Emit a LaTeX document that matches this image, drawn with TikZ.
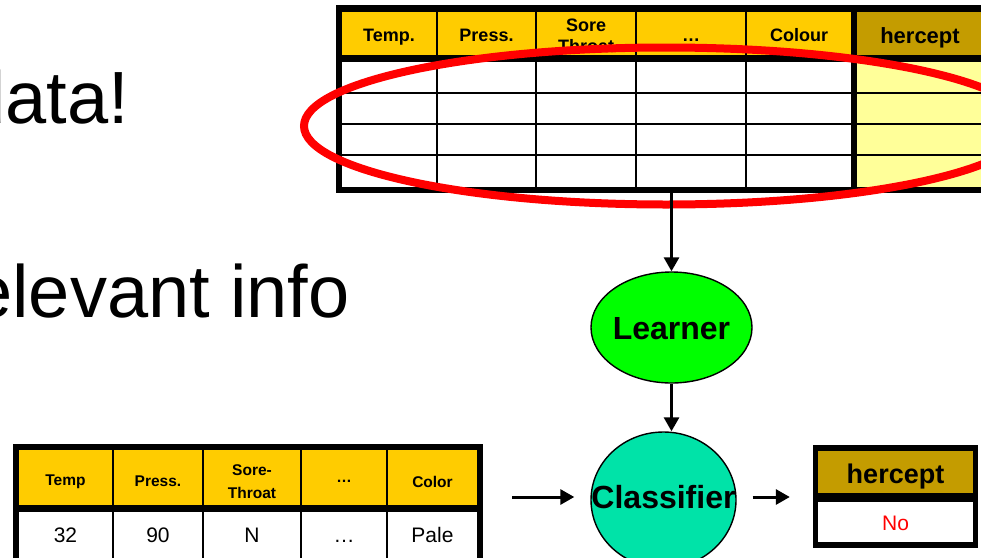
\documentclass[tikz,border=0pt]{standalone}
\usepackage{fontspec}
\setmainfont{Liberation Sans}
\usetikzlibrary{arrows.meta,shapes.geometric}

\definecolor{hdr}{HTML}{FFCC00}
\definecolor{gold}{HTML}{C49C00}
\definecolor{pale}{HTML}{FFFF99}
\definecolor{lime}{HTML}{00FF00}
\definecolor{sea}{HTML}{00E3A8}

\tikzset{
  frame/.style={rectangle, fill=black, inner sep=0pt},
  cell/.style={rectangle, inner sep=0pt, align=center},
  hcell/.style={cell, fill=hdr},
  dcell/.style={cell, fill=white},
  % single-line labels get a fixed box (no depth) so that the capitals
  % sit at the middle of the node whatever the letters are
  bighead/.style={font=\fontsize{18}{21}\selectfont\bfseries, text height=15.9pt, text depth=0pt},
  smallhead/.style={font=\fontsize{15.5}{23}\selectfont\bfseries},
  value/.style={font=\fontsize{21}{24}\selectfont, text height=15pt, text depth=0pt, inner sep=0pt},
  blob/.style={ellipse, draw=black, line width=1.4pt, inner sep=0pt},
  blobtext/.style={inner sep=0pt, text height=22.9pt, text depth=0pt,
                   font=\fontsize{32}{36}\selectfont\bfseries},
  arr/.style={line width=3pt, -{Triangle[length=14pt,width=15pt]}},
  slide/.style={font=\fontsize{74}{80}\selectfont, anchor=base east, inner sep=0pt}
}

\begin{document}
\begin{tikzpicture}[x=1pt,y=-1pt]
\useasboundingbox (0,0) rectangle (981,557);
\clip (0,0) rectangle (981,557);

% slide text running off the left edge
\node[slide] (txtA) at (129,123) {data!};
\node[slide] (txtB) at (350,317) {relevant info};

% ---------- training table ----------
\node[frame, minimum width=652pt, minimum height=188pt] (toptab) at (662,99) {};
\foreach \cx/\w/\lab [count=\i] in {389/94/Temp., 486.5/97/Press., 691/108/\dots, 799/104/Colour}{
  \node[hcell, bighead, minimum width=\w pt, minimum height=43pt] (th\i) at (\cx,33.5) {\lab};
}
\node[hcell, minimum width=98pt, minimum height=43pt] (thS) at (586,33.5) {};
\begin{scope}
  \clip (thS.north west) rectangle (thS.south east);
  \node[cell, font=\fontsize{18}{21}\selectfont\bfseries] (thStxt) at (586,35.5) {Sore\\Throat};
\end{scope}
\node[cell, fill=gold, minimum width=126pt, minimum height=43pt,
      text height=20.8pt, text depth=0pt,
      font=\fontsize{22}{24}\selectfont\bfseries] (thH) at (920,33.5) {hercept};

\foreach \cy/\h [count=\r] in {77/30, 108.5/29, 139.5/29, 171.5/31}{
  \foreach \cx/\w [count=\c] in {389/94, 486.5/97, 586/98, 691/108, 799/104}{
    \node[dcell, minimum width=\w pt, minimum height=\h pt] (td\r-\c) at (\cx,\cy) {};
  }
  \node[cell, fill=pale, minimum width=126pt, minimum height=\h pt] (tdH\r) at (920,\cy) {};
}

% selection ring over the table
\draw[red, line width=8pt] (666,126) ellipse [x radius=362, y radius=78.5];

% ---------- learner and classifier ----------
\node[blob, fill=lime, minimum width=161pt, minimum height=111pt] (learner) at (671.5,327.5) {};
\node[blobtext] (learnerTxt) at (671.5,328.5) {Learner};
\node[blob, fill=sea, minimum width=145pt, minimum height=136pt] (classifier) at (663.5,500) {};
\node[blobtext] (classifierTxt) at (663.5,497) {Classifier};

\draw[arr] (toptab.south -| learner.north) -- (learner.north);
\draw[arr] (learner.south) -- (learner.south |- classifier.north);

% ---------- query table ----------
\node[frame, minimum width=470pt, minimum height=130pt] (qtab) at (248,509) {};
\foreach \cx/\w/\lab/\val [count=\i] in {65.5/93/Temp/32, 158/88/Press./90, 252/96/{Sore-\\Throat}/N, 344/84/\dots/\dots, 432.5/89/Color/Pale}{
  \node[hcell, minimum width=\w pt, minimum height=55pt] (qh\i) at (\cx,477.5) {};
  \node[smallhead, cell] (qt\i) at (\cx,481.5) {\lab};
  \node[dcell, minimum width=\w pt, minimum height=50pt] (qd\i) at (\cx,537) {};
  \node[value] (qv\i) at (\cx,535) {\val};
}

% ---------- prediction ----------
\node[frame, minimum width=165pt, minimum height=103pt] (outbox) at (895.5,496.5) {};
\node[cell, fill=gold, minimum width=155pt, minimum height=42pt] (outH) at (895.5,472) {};
\node[inner sep=0pt, text height=19.3pt, text depth=0pt,
      font=\fontsize{27}{30}\selectfont\bfseries] (outHtxt) at (895.5,474) {hercept};
\node[cell, fill=white, minimum width=155pt, minimum height=40pt] (outV) at (895.5,522) {};
\node[value, text=red] (outVtxt) at (895.5,523) {No};

\coordinate (inL) at (512,497);
\draw[arr, shorten >=16pt] (inL) -- (classifier.west |- inL);
\draw[arr, shorten <=16pt, shorten >=23pt] (classifier.east |- inL) -- (outbox.west |- inL);

\end{tikzpicture}
\end{document}
